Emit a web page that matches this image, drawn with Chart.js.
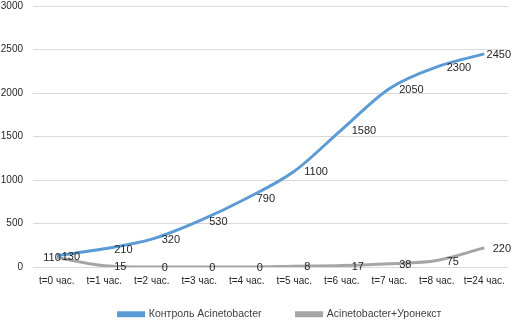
<!DOCTYPE html>
<html>
<head>
<meta charset="utf-8">
<script src="https://cdn.jsdelivr.net/npm/chart.js@4.4.1/dist/chart.umd.min.js"></script>
<style>
  html, body { margin: 0; padding: 0; background: #fff; }
  #wrap { width: 514px; height: 323px; }
</style>
</head>
<body>
<div id="wrap"><canvas id="chart" width="514" height="323"></canvas></div>
<script>
const categories = ['t=0 час.', 't=1 час.', 't=2 час.', 't=3 час.', 't=4 час.', 't=5 час.', 't=6 час.', 't=7 час.', 't=8 час.', 't=24 час.'];
const controlValues = [130, 210, 320, 530, 790, 1100, 1580, 2050, 2300, 2450];
const uronextValues = [110, 15, 0, 0, 0, 8, 17, 38, 75, 220];
const seriesNames = ['Контроль Acinetobacter', 'Acinetobacter+Уронекст'];

const font = "'Liberation Sans', Arial, sans-serif";

// value labels to the right of each point (first gray one sits left), kept inside the canvas
const valueLabels = {
    id: 'valueLabels',
    afterDatasetsDraw(chart) {
        const ctx = chart.ctx;
        ctx.save();
        ctx.font = '11px ' + font;
        ctx.fillStyle = '#262626';
        ctx.textBaseline = 'middle';
        chart.data.datasets.forEach((ds, di) => {
            const meta = chart.getDatasetMeta(di);
            meta.data.forEach((pt, i) => {
                const txt = String(ds.data[i]);
                if (di === 1 && i === 0) {
                    ctx.textAlign = 'right';
                    ctx.fillText(txt, pt.x + 4, pt.y + 1);
                } else {
                    ctx.textAlign = 'left';
                    let x = pt.x + (i === 0 ? 5 : 10);
                    const w = ctx.measureText(txt).width;
                    x = Math.min(x, chart.width - 3 - w);
                    ctx.fillText(txt, x, pt.y + 1);
                }
            });
        });
        ctx.restore();
    }
};

// legend keeps its wide item spacing but takes less height, nudged a bit right
const legendBox = {
    id: 'legendBox',
    afterInit(chart) {
        const lg = chart.legend;
        const fit = lg.fit;
        const draw = lg.draw;
        lg.fit = function () {
            fit.call(this);
            this.height = 36;
        };
        lg.draw = function () {
            const t = this.top, l = this.left, r = this.right;
            this.top = t - 13;
            this.left = l + 26;
            this.right = r + 26;
            draw.call(this);
            this.top = t;
            this.left = l;
            this.right = r;
        };
    }
};

new Chart(document.getElementById('chart').getContext('2d'), {
    type: 'line',
    data: {
        labels: categories,
        datasets: [{
            label: seriesNames[0],
            data: controlValues,
            borderColor: '#5B9BD5',
            backgroundColor: '#5B9BD5',
            borderWidth: 3,
            pointRadius: 0,
            cubicInterpolationMode: 'monotone',
            fill: false
        }, {
            label: seriesNames[1],
            data: uronextValues,
            borderColor: '#A5A5A5',
            backgroundColor: '#A5A5A5',
            borderWidth: 3,
            pointRadius: 0,
            cubicInterpolationMode: 'monotone',
            fill: false
        }]
    },
    options: {
        responsive: false,
        animation: false,
        layout: { padding: { top: 0, right: 6, left: 0, bottom: 0 } },
        plugins: {
            tooltip: { enabled: false },
            legend: {
                position: 'bottom',
                labels: {
                    font: { family: font, size: 10.5 },
                    color: '#404040',
                    boxWidth: 25,
                    boxHeight: 3,
                    padding: 35
                }
            }
        },
        scales: {
            x: {
                offset: true,
                grid: { display: false, drawTicks: false },
                border: { display: false },
                ticks: { font: { family: font, size: 10 }, color: '#262626', padding: 8, maxRotation: 0 },
                afterFit(scale) { scale.height = 20; }
            },
            y: {
                min: 0,
                max: 3000,
                ticks: {
                    stepSize: 500,
                    font: { family: font, size: 10 },
                    color: '#262626',
                    padding: 0,
                    callback: v => String(v)
                },
                grid: { color: '#D9D9D9', drawTicks: true, tickLength: 10, tickColor: 'rgba(0,0,0,0)' },
                border: { display: false },
                afterFit(scale) { scale.width = 33; }
            }
        }
    },
    plugins: [valueLabels, legendBox]
});
</script>
</body>
</html>
